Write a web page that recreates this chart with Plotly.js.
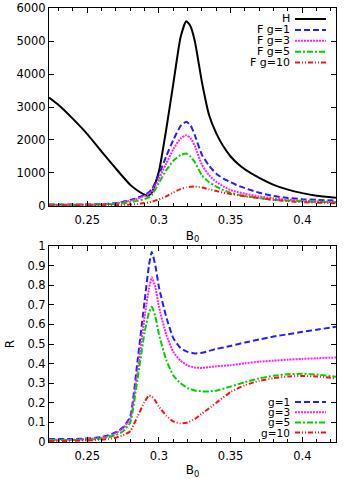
<!DOCTYPE html>
<html>
<head>
<meta charset="utf-8">
<script src="https://cdn.plot.ly/plotly-3.0.1.min.js"></script>
<style>
  html, body { margin: 0; padding: 0; background: #fff; }
  #plot { width: 349px; height: 479px; }
</style>
</head>
<body>
<div id="plot"></div>
<script>
// top panel: H and F(g) against B0
const b0Top = [0.2233, 0.23, 0.24, 0.25, 0.26, 0.27, 0.28, 0.285, 0.29, 0.2925, 0.295, 0.3, 0.305, 0.31, 0.315, 0.319, 0.322, 0.325, 0.33, 0.335, 0.34, 0.345, 0.35, 0.355, 0.36, 0.37, 0.38, 0.39, 0.40, 0.41, 0.4235];
const H    = [3290, 3060, 2640, 2180, 1650, 1130, 640, 470, 340, 315, 400, 1050, 2300, 3700, 5100, 5600, 5450, 5000, 3750, 2750, 2200, 1800, 1500, 1280, 1110, 850, 640, 495, 390, 310, 250];
const Fg1  = [45, 45, 45, 48, 55, 90, 180, 250, 340, 400, 500, 950, 1500, 2000, 2420, 2550, 2450, 2150, 1550, 1220, 980, 830, 720, 620, 540, 400, 300, 245, 205, 185, 167];
const Fg3  = [40, 40, 40, 43, 50, 80, 160, 220, 300, 350, 440, 820, 1280, 1720, 2040, 2145, 2060, 1820, 1250, 930, 730, 590, 480, 420, 370, 290, 230, 190, 160, 140, 125];
const Fg5  = [35, 35, 35, 38, 42, 60, 115, 155, 210, 250, 330, 700, 1080, 1370, 1540, 1590, 1500, 1330, 930, 720, 590, 480, 395, 345, 305, 240, 190, 160, 140, 125, 115];
const Fg10 = [12, 12, 12, 14, 18, 26, 45, 62, 90, 105, 130, 200, 290, 410, 510, 565, 585, 590, 560, 505, 455, 405, 365, 325, 295, 235, 185, 145, 118, 100, 85];

// bottom panel: R(g) against B0
const b0Bot = [0.2233, 0.23, 0.24, 0.25, 0.26, 0.265, 0.27, 0.275, 0.28, 0.285, 0.29, 0.293, 0.295, 0.2975, 0.3, 0.305, 0.31, 0.315, 0.32, 0.325, 0.33, 0.335, 0.34, 0.35, 0.36, 0.37, 0.38, 0.39, 0.40, 0.41, 0.4235];
const Rg1  = [0.015, 0.015, 0.015, 0.018, 0.025, 0.035, 0.05, 0.075, 0.13, 0.41, 0.72, 0.9, 0.97, 0.9, 0.79, 0.64, 0.53, 0.48, 0.46, 0.452, 0.455, 0.465, 0.475, 0.49, 0.508, 0.523, 0.538, 0.55, 0.562, 0.573, 0.588];
const Rg3  = [0.012, 0.012, 0.012, 0.015, 0.022, 0.03, 0.045, 0.07, 0.12, 0.36, 0.64, 0.78, 0.84, 0.79, 0.69, 0.55, 0.46, 0.415, 0.39, 0.38, 0.378, 0.382, 0.386, 0.392, 0.402, 0.41, 0.415, 0.42, 0.424, 0.427, 0.431];
const Rg5  = [0.01, 0.01, 0.01, 0.012, 0.018, 0.025, 0.035, 0.055, 0.1, 0.32, 0.56, 0.66, 0.69, 0.64, 0.55, 0.42, 0.34, 0.30, 0.275, 0.263, 0.258, 0.258, 0.262, 0.283, 0.305, 0.325, 0.338, 0.346, 0.348, 0.344, 0.333];
const Rg10 = [0.005, 0.005, 0.006, 0.008, 0.012, 0.016, 0.022, 0.035, 0.055, 0.13, 0.205, 0.237, 0.232, 0.21, 0.18, 0.135, 0.105, 0.095, 0.1, 0.117, 0.145, 0.172, 0.2, 0.255, 0.29, 0.312, 0.326, 0.334, 0.337, 0.334, 0.325];

const topLabels = ['H', 'F g=1', 'F g=3', 'F g=5', 'F g=10'];
const botLabels = ['g=1', 'g=3', 'g=5', 'g=10'];

const styles = [
  { color: '#000000', dash: 'solid' },
  { color: '#2020ff', dash: '6px,3px' },
  { color: '#ff20ff', dash: '2px,1px' },
  { color: '#00d000', dash: '6px,2px,2px,2px' },
  { color: '#ff1010', dash: '5px,2px,1px,2px,1px,2px' }
];

function curve(x, y, st, xa, ya) {
  return {
    type: 'scatter', mode: 'lines', x, y, xaxis: xa, yaxis: ya,
    line: { color: st.color, dash: st.dash, width: 2, shape: 'spline', smoothing: 0.5 },
    showlegend: false, hoverinfo: 'skip'
  };
}

const traces = [
  curve(b0Top, H, styles[0], 'x', 'y'),
  curve(b0Top, Fg1, styles[1], 'x', 'y'),
  curve(b0Top, Fg3, styles[2], 'x', 'y'),
  curve(b0Top, Fg5, styles[3], 'x', 'y'),
  curve(b0Top, Fg10, styles[4], 'x', 'y'),
  curve(b0Bot, Rg1, styles[1], 'x2', 'y2'),
  curve(b0Bot, Rg3, styles[2], 'x2', 'y2'),
  curve(b0Bot, Rg5, styles[3], 'x2', 'y2'),
  curve(b0Bot, Rg10, styles[4], 'x2', 'y2')
];

// hand-made gnuplot style key: text on the left, line sample on the right
const W = 349, H_PX = 479, L = 49, R = 13, T = 8, B = 37;
const px = v => (v - L) / (W - L - R);
const py = v => (H_PX - B - v) / (H_PX - T - B);

const annotations = [];
const shapes = [];
function key(labels, st, y0, step, fs) {
  labels.forEach((lab, i) => {
    const y = y0 + i * step;
    annotations.push({
      xref: 'paper', yref: 'paper', x: px(291), y: py(y), xanchor: 'right', yanchor: 'middle',
      text: lab, showarrow: false, borderpad: 0, font: { size: fs, color: '#000' }
    });
    shapes.push({
      type: 'line', xref: 'paper', yref: 'paper', x0: px(295), x1: px(326), y0: py(y), y1: py(y),
      line: { color: st[i].color, dash: st[i].dash, width: 2 }
    });
  });
}
key(topLabels, styles, 19, 10.9, 11);
key(botLabels, styles.slice(1), 402, 10.2, 10.5);

const xcommon = {
  range: [0.2233, 0.4235], tickvals: [0.25, 0.3, 0.35, 0.4], ticktext: ['0.25', '0.3', '0.35', '0.4'],
  ticks: 'inside', ticklen: 5, tickcolor: '#000', showline: true, linecolor: '#000', linewidth: 1,
  mirror: 'ticks', showgrid: false, zeroline: false, ticklabelstandoff: 3,
  tickfont: { size: 11.5 },
  minor: { dtick: 0.01, tick0: 0.2, ticks: 'inside', ticklen: 3, tickcolor: '#000', showgrid: false },
  title: { text: 'B<sub>0</sub>', font: { size: 12 }, standoff: 5 }
};
const ycommon = {
  ticks: 'inside', ticklen: 5, tickcolor: '#000', showline: true, linecolor: '#000', linewidth: 1,
  mirror: 'ticks', showgrid: false, zeroline: false, ticklabelstandoff: 0,
  tickfont: { size: 11.5 }
};

const layout = {
  width: W, height: H_PX,
  margin: { l: L, r: R, t: T, b: B },
  paper_bgcolor: '#fff', plot_bgcolor: '#fff',
  font: { family: 'DejaVu Sans, sans-serif', size: 11, color: '#000' },
  showlegend: false,
  xaxis: Object.assign({}, xcommon, { anchor: 'y' }),
  yaxis: Object.assign({}, ycommon, { domain: [0.5438, 1], range: [0, 6000], dtick: 1000, anchor: 'x' }),
  xaxis2: Object.assign({}, xcommon, { anchor: 'y2' }),
  yaxis2: Object.assign({}, ycommon, {
    domain: [0, 0.4516], range: [0, 1], anchor: 'x2',
    tickvals: [0, 0.1, 0.2, 0.3, 0.4, 0.5, 0.6, 0.7, 0.8, 0.9, 1],
    ticktext: ['0', '0.1', '0.2', '0.3', '0.4', '0.5', '0.6', '0.7', '0.8', '0.9', '1'],
    title: { text: 'R', font: { size: 12 }, standoff: 10 }
  }),
  annotations, shapes
};

Plotly.newPlot('plot', traces, layout, { staticPlot: true, displayModeBar: false });
</script>
</body>
</html>
